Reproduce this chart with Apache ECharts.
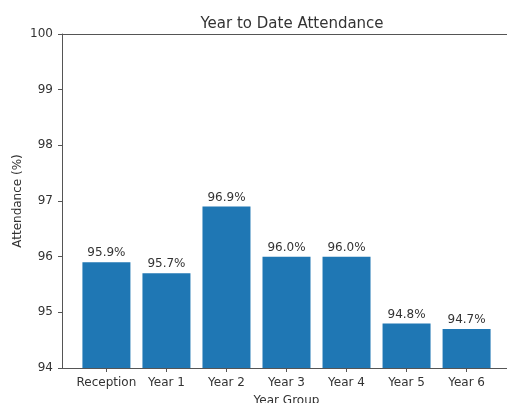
<!DOCTYPE html>
<html><head><meta charset="utf-8">
<script src="https://cdn.jsdelivr.net/npm/echarts@6/dist/echarts.min.js"></script>
<style>html,body{margin:0;padding:0;background:#fff}#c{width:507px;height:403px}</style>
</head><body><div id="c"></div>
<script>
const categories = ['Reception','Year 1','Year 2','Year 3','Year 4','Year 5','Year 6'];
const attendance = [95.9, 95.7, 96.9, 96.0, 96.0, 94.8, 94.7];
const yTicks = [94, 95, 96, 97, 98, 99, 100];

const font = 'DejaVu Sans';
const txt = '#333';
const chart = echarts.init(document.getElementById('c'), null, {renderer:'canvas'});
chart.setOption({
  animation: false,
  backgroundColor: '#fff',
  title: {
    text: 'Year to Date Attendance', left: 287, top: 12, textAlign: 'center',
    textStyle: {fontFamily: font, fontSize: 15, fontWeight: 'normal', color: txt}
  },
  grid: {left: 62, right: -4, top: 34, bottom: 35, containLabel: false, outerBoundsMode: 'none'},
  xAxis: [{
    type: 'value', min: -0.74, max: 6.74,
    name: 'Year Group', nameLocation: 'middle', nameGap: 27,
    nameTextStyle: {fontFamily: font, fontSize: 12, color: txt},
    axisLine: {show: true, onZero: false, lineStyle: {color: '#555', width: 1}},
    axisTick: {show: true, inside: false, length: 4, lineStyle: {color: '#555'},
      customValues: categories.map((c, i) => i)},
    axisLabel: {show: true, margin: 9, fontFamily: font, fontSize: 12, color: txt,
      customValues: categories.map((c, i) => i),
      formatter: v => categories[Math.round(v)]},
    splitLine: {show: false}
  }, {
    type: 'value', position: 'top', min: -0.74, max: 6.74,
    axisLine: {show: true, onZero: false, lineStyle: {color: '#555', width: 1}},
    axisTick: {show: false}, axisLabel: {show: false}, splitLine: {show: false}
  }],
  yAxis: {
    type: 'value', min: 94, max: 100, interval: 1,
    name: 'Attendance (%)', nameLocation: 'middle', nameGap: 38, nameRotate: 90,
    nameMoveOverlap: false,
    nameTextStyle: {fontFamily: font, fontSize: 12, color: txt},
    axisLine: {show: true, onZero: false, lineStyle: {color: '#555', width: 1}},
    axisTick: {show: true, length: 4, lineStyle: {color: '#555'}},
    axisLabel: {margin: 9, fontFamily: font, fontSize: 12, color: txt},
    splitLine: {show: false}
  },
  series: [{
    type: 'bar', xAxisIndex: 0,
    data: attendance.map((v, i) => [i, v]),
    barWidth: 48,
    itemStyle: {color: '#1f77b4'},
    label: {show: true, position: 'top', distance: 3, fontFamily: font, fontSize: 12, color: txt,
      formatter: p => p.value[1].toFixed(1) + '%'}
  }]
});
</script></body></html>
